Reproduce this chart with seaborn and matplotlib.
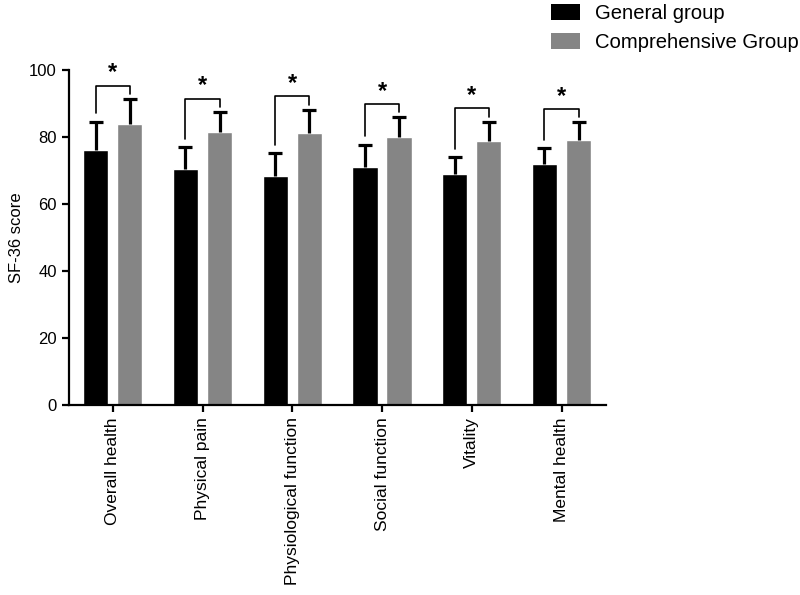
import matplotlib
matplotlib.use("Agg")
import matplotlib.pyplot as plt
import numpy as np
import pandas as pd
import seaborn as sns
from matplotlib.patches import Patch

# Data (mean and one-sided SD)
categories = [
    "Overall health",
    "Physical pain",
    "Physiological function",
    "Social function",
    "Vitality",
    "Mental health",
]
groups = ["General group", "Comprehensive Group"]
general_mean = [76.1, 70.5, 68.4, 71.1, 69.0, 72.0]
general_sd = [8.5, 6.5, 6.9, 6.7, 5.1, 4.8]
comp_mean = [83.8, 81.7, 81.2, 80.1, 78.9, 79.1]
comp_sd = [7.6, 5.8, 7.0, 5.8, 5.7, 5.3]
y_ticks = [0, 20, 40, 60, 80, 100]

COLORS = {"General group": "#000000", "Comprehensive Group": "#858585"}

sns.set_style("ticks")
plt.rcParams["font.family"] = ["Liberation Sans", "DejaVu Sans"]
for key in ["text.color", "axes.labelcolor", "xtick.color", "ytick.color"]:
    plt.rcParams[key] = "black"

df = pd.DataFrame({
    "item": categories * 2,
    "group": [groups[0]] * len(categories) + [groups[1]] * len(categories),
    "score": general_mean + comp_mean,
})

fig = plt.figure(figsize=(8, 5.95), dpi=100)
ax = fig.add_axes([0.086, 0.319, 0.672, 0.563])

sns.barplot(
    data=df, x="item", y="score", hue="group", order=categories,
    hue_order=groups, palette=COLORS, width=0.76, gap=0.26,
    errorbar=None, legend=False, ax=ax, saturation=1,
)

# one-sided (upper) error bars
sds = [general_sd, comp_sd]
centers = []
tops = []
for cont, sd in zip(ax.containers, sds):
    xs = np.array([p.get_x() + p.get_width() / 2 for p in cont.patches])
    hs = np.array([p.get_height() for p in cont.patches])
    top = hs + np.array(sd)
    ax.vlines(xs, hs, top, color="black", lw=2.3, zorder=3)
    ax.plot(xs, top, ls="none", marker="_", ms=10, mew=2.3, color="black",
            zorder=3)
    centers.append(xs)
    tops.append(top)

# significance brackets
for i in range(len(categories)):
    x0, x1 = centers[0][i], centers[1][i]
    level = tops[1][i] + 4
    ax.plot([x0, x0, x1, x1], [tops[0][i] + 2.5, level, level, tops[1][i] + 1.5],
            color="black", lw=1.2, clip_on=False, zorder=4)
    ax.text((x0 + x1) / 2, level + 0.4, "*", ha="center", va="bottom",
            fontsize=17, fontweight="bold", clip_on=False)

ax.set_xlim(-0.49, 5.5)
ax.set_ylim(0, 100)
ax.set_yticks(y_ticks)
ax.set_xlabel("")
ax.set_ylabel("SF-36 score", fontsize=12)
ax.tick_params(axis="both", width=1.6, length=5, color="black", labelsize=12)
ax.tick_params(axis="x", labelsize=12.5)
plt.setp(ax.get_xticklabels(), rotation=90)
for s in ["left", "bottom"]:
    ax.spines[s].set_linewidth(1.6)
    ax.spines[s].set_color("black")
sns.despine(ax=ax)

handles = [Patch(facecolor=COLORS[g], edgecolor="none", label=g) for g in groups]
fig.legend(handles=handles, loc="upper left", bbox_to_anchor=(0.666, 1.024),
           frameon=False, fontsize=14.6, handlelength=1.45, handleheight=0.8,
           handletextpad=0.7, labelspacing=0.5)

fig.savefig("out.png", dpi=100)
